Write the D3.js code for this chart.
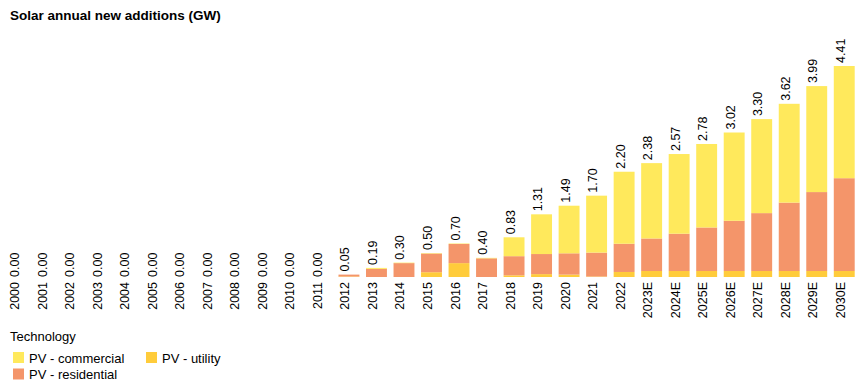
<!DOCTYPE html>
<html>
<head>
<script src="https://cdn.jsdelivr.net/npm/d3@7"></script>
<style>
body {
  margin: 0;
  padding: 0;
  background: #fff;
  font-family: "Liberation Sans", Arial, sans-serif;
}
text {
  fill: #000;
}
</style>
</head>
<body>
<svg></svg>

<script>
var years = ['2000', '2001', '2002', '2003', '2004', '2005', '2006', '2007', '2008', '2009',
  '2010', '2011', '2012', '2013', '2014', '2015', '2016', '2017', '2018', '2019',
  '2020', '2021', '2022', '2023E', '2024E', '2025E', '2026E', '2027E', '2028E', '2029E', '2030E'];

// stacked from the bottom: utility, residential, commercial
var utility = [0, 0, 0, 0, 0, 0, 0, 0, 0, 0,
  0, 0, 0.01, 0, 0, 0.10, 0.29, 0, 0.035, 0.06,
  0.05, 0.01, 0.105, 0.125, 0.125, 0.125, 0.125, 0.125, 0.125, 0.125, 0.125];
var residential = [0, 0, 0, 0, 0, 0, 0, 0, 0, 0,
  0, 0, 0.04, 0.17, 0.29, 0.39, 0.40, 0.39, 0.40, 0.42,
  0.445, 0.50, 0.59, 0.68, 0.78, 0.91, 1.05, 1.21, 1.43, 1.65, 1.94];
var totals = [0, 0, 0, 0, 0, 0, 0, 0, 0, 0,
  0, 0, 0.05, 0.19, 0.30, 0.50, 0.70, 0.40, 0.83, 1.31,
  1.49, 1.70, 2.20, 2.38, 2.57, 2.78, 3.02, 3.30, 3.62, 3.99, 4.41];
var commercial = totals.map(function(t, i) {
  return Math.max(0, +(t - utility[i] - residential[i]).toFixed(3));
});

var seriesNames = ['PV - utility', 'PV - residential', 'PV - commercial'];
var colors = {
  'PV - commercial': '#ffe95c',
  'PV - utility': '#ffcc3b',
  'PV - residential': '#f4956a'
};

var width = 865,
  height = 385;

var svg = d3.select('svg')
  .attr('width', width)
  .attr('height', height);

var rows = years.map(function(y, i) {
  return {
    year: y,
    'PV - utility': utility[i],
    'PV - residential': residential[i],
    'PV - commercial': commercial[i],
    total: totals[i]
  };
});

var x = d3.scaleBand()
  .domain(years)
  .range([5, 858])
  .paddingInner(0.24)
  .paddingOuter(0.12);

var y = d3.scaleLinear()
  .domain([0, 4.41])
  .range([277, 66]);

var layers = d3.stack().keys(seriesNames)(rows);

svg.append('text')
  .attr('x', 10)
  .attr('y', 20)
  .style('font-size', '13.5px')
  .style('font-weight', 'bold')
  .text('Solar annual new additions (GW)');

svg.append('g')
  .selectAll('g')
  .data(layers)
  .enter().append('g')
  .attr('fill', function(d) {
    return colors[d.key];
  })
  .selectAll('rect')
  .data(function(d) {
    return d;
  })
  .enter().append('rect')
  .attr('x', function(d) {
    return x(d.data.year);
  })
  .attr('width', x.bandwidth())
  .attr('y', function(d) {
    return y(d[1]);
  })
  .attr('height', function(d) {
    return Math.max(0, y(d[0]) - y(d[1]));
  });

// value labels
svg.append('g')
  .selectAll('text')
  .data(rows)
  .enter().append('text')
  .attr('transform', function(d) {
    var cx = x(d.year) + x.bandwidth() / 2 + 0.5;
    var cy = d.total > 0 ? y(d.total) - 3 : y(0);
    return 'translate(' + cx + ',' + cy + ') rotate(-90)';
  })
  .style('font-size', '12.5px')
  .text(function(d) {
    return d.total.toFixed(2);
  });

// category axis labels
svg.append('g')
  .selectAll('text')
  .data(years)
  .enter().append('text')
  .attr('transform', function(d) {
    return 'translate(' + (x(d) + x.bandwidth() / 2 + 0.5) + ',' + (y(0) + 5) + ') rotate(-90)';
  })
  .attr('text-anchor', 'end')
  .style('font-size', '12.5px')
  .text(function(d) {
    return d;
  });

// legend
var legend = svg.append('g');
legend.append('text')
  .attr('x', 10)
  .attr('y', 341)
  .style('font-size', '13px')
  .text('Technology');

var legendItems = [
  { name: 'PV - commercial', col: 0, row: 0 },
  { name: 'PV - utility', col: 1, row: 0 },
  { name: 'PV - residential', col: 0, row: 1 }
];

var item = legend.selectAll('g.item')
  .data(legendItems)
  .enter().append('g')
  .attr('class', 'item')
  .attr('transform', function(d) {
    return 'translate(' + (13 + d.col * 133) + ',' + (352 + d.row * 16.5) + ')';
  });

item.append('rect')
  .attr('width', 11)
  .attr('height', 11)
  .attr('fill', function(d) {
    return colors[d.name];
  });

item.append('text')
  .attr('x', 16)
  .attr('y', 10.5)
  .style('font-size', '13px')
  .text(function(d) {
    return d.name;
  });
</script>
</body>
</html>
